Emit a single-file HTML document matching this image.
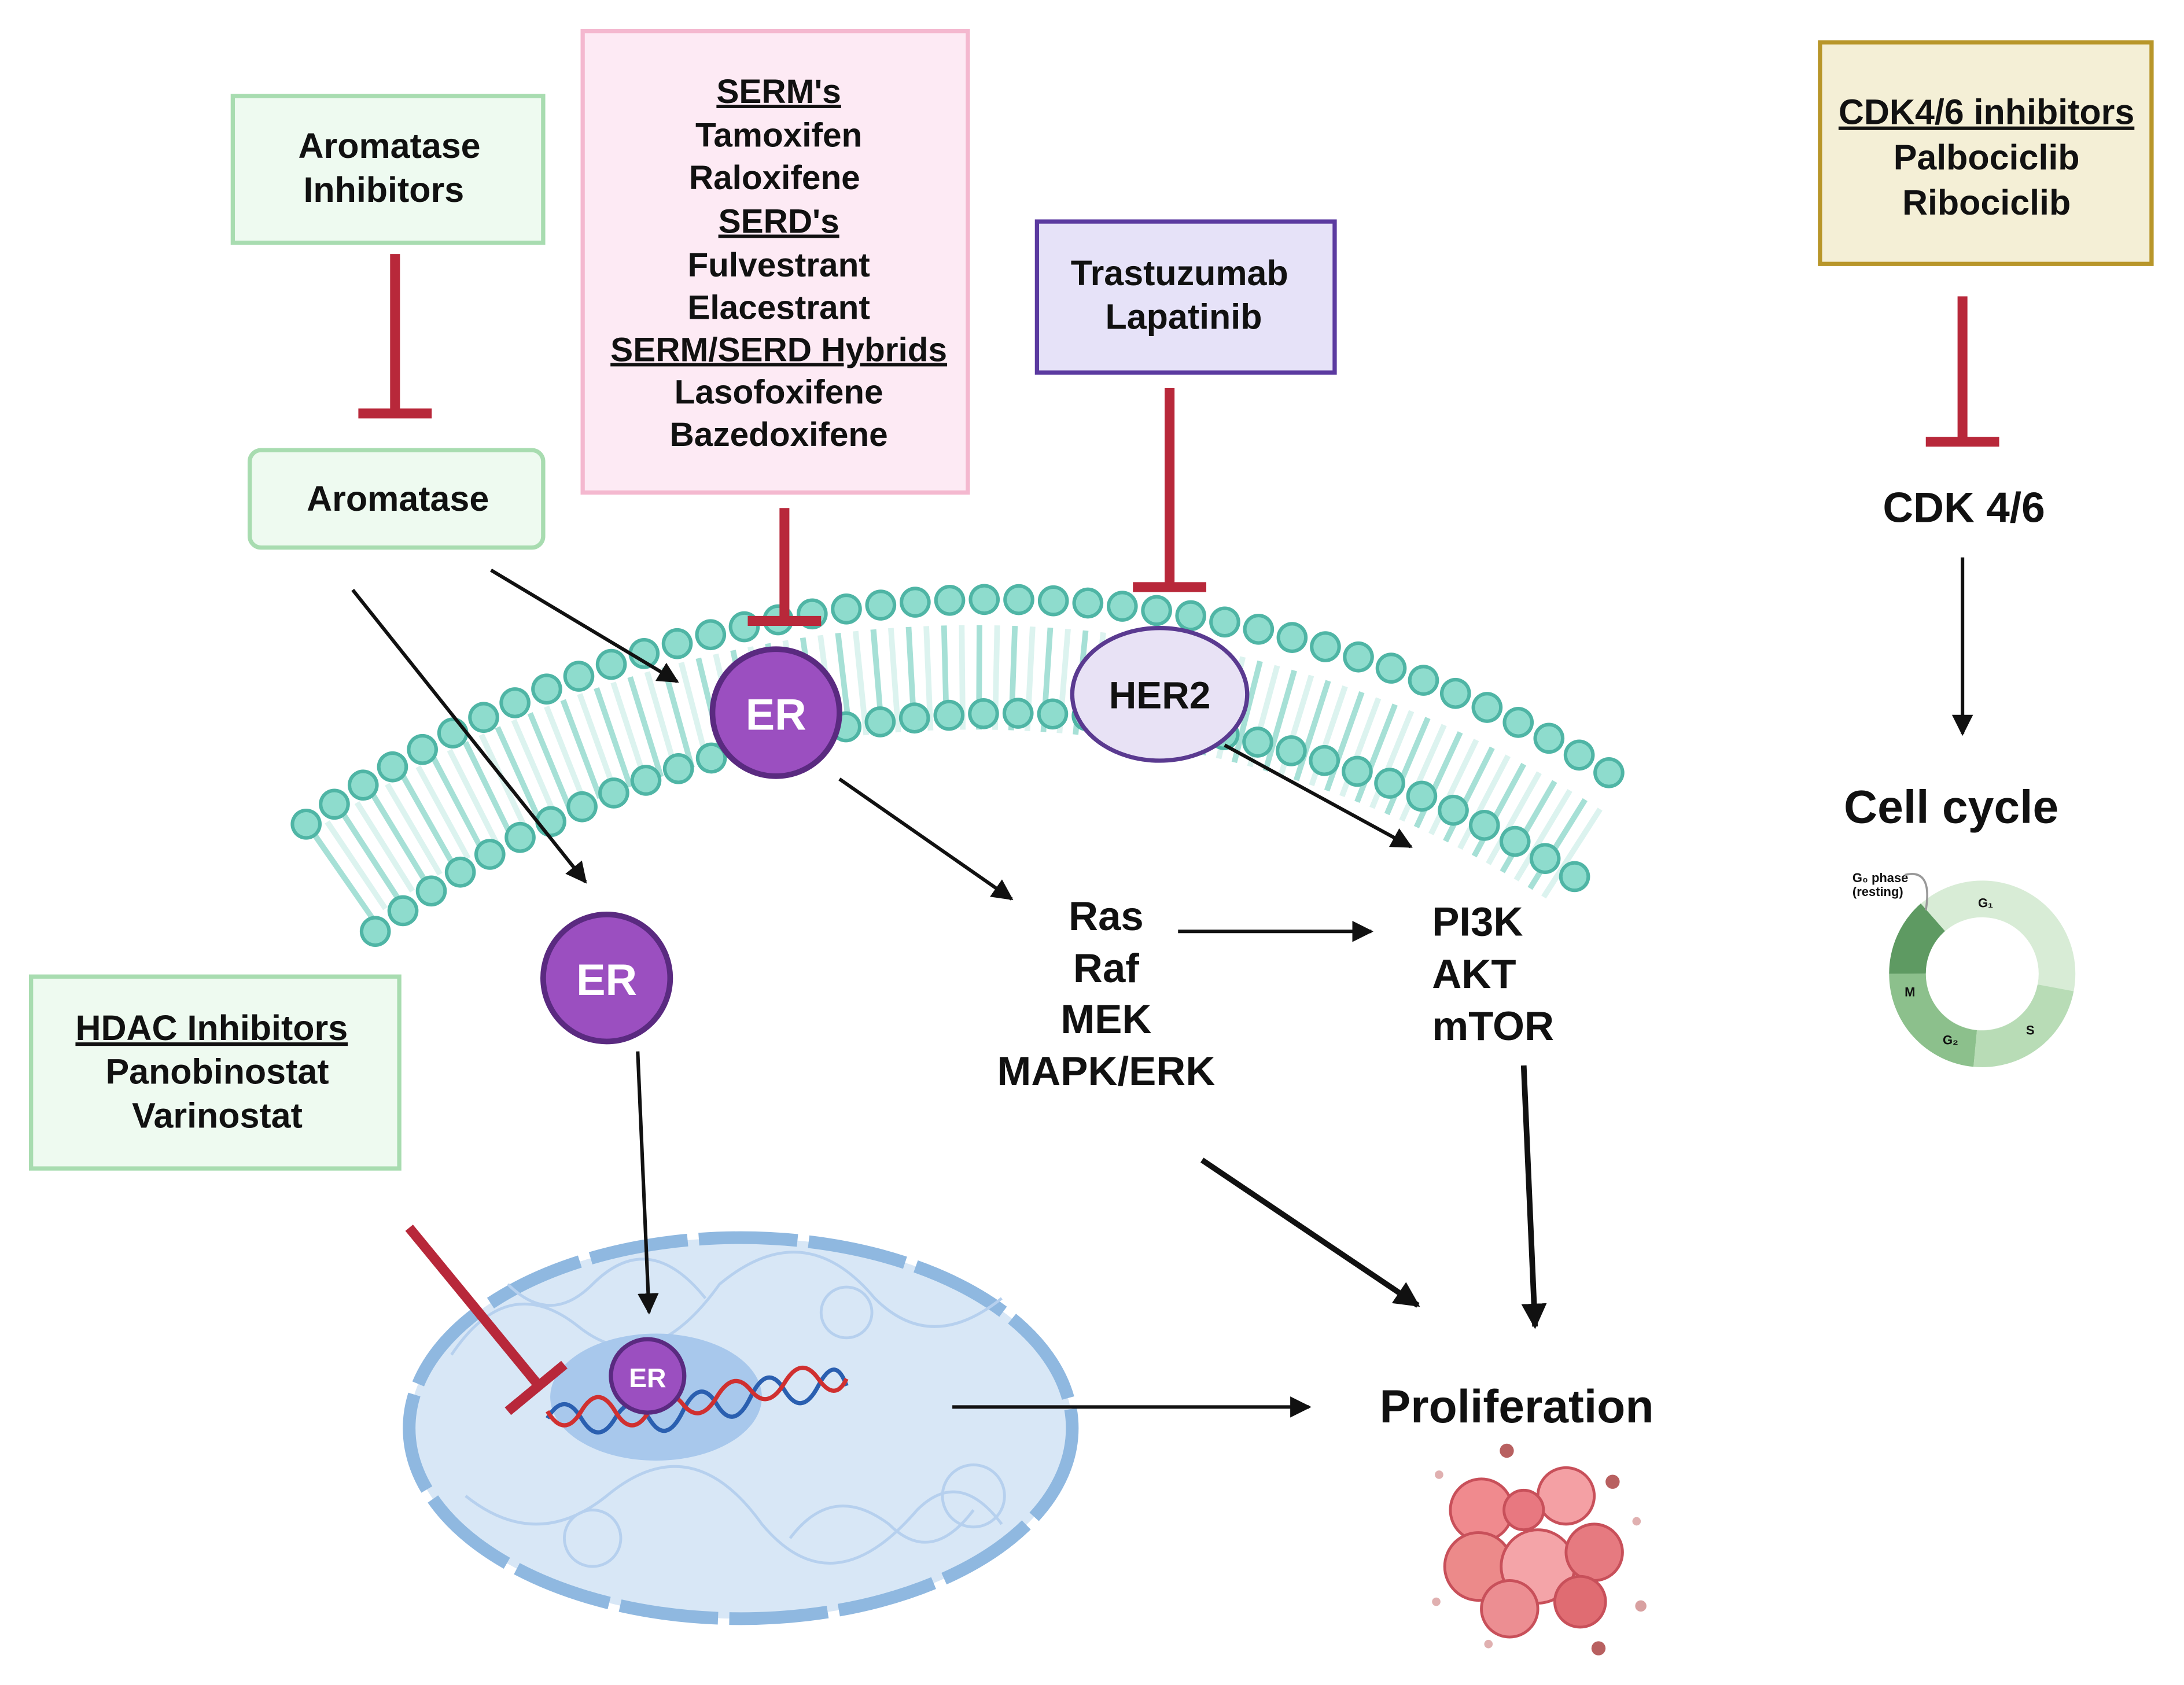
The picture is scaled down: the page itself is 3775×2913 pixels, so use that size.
<!DOCTYPE html>
<html><head><meta charset="utf-8"><style>
html,body{margin:0;padding:0;background:#fff;}
svg{display:block;}
text{font-family:"Liberation Sans",sans-serif;font-weight:bold;fill:#111;}
</style></head><body>
<svg width="3775" height="2913" viewBox="0 0 1548 1194" preserveAspectRatio="none" xmlns="http://www.w3.org/2000/svg">
<defs>
<marker id="ah" viewBox="0 0 10 10" refX="9" refY="5" markerWidth="6" markerHeight="6" orient="auto"><path d="M0,0 L10,5 L0,10 z" fill="#111"/></marker>
<marker id="ah2" viewBox="0 0 10 10" refX="9" refY="5" markerWidth="4.5" markerHeight="4.5" orient="auto"><path d="M0,0 L10,5 L0,10 z" fill="#111"/></marker>
</defs>
<rect width="1548" height="1194" fill="#fff"/>

<!-- membrane -->
<path d="M241,621 A785,785 0 0 1 1118,607" fill="none" stroke="#a6e0d6" stroke-width="74" stroke-dasharray="4 20"/>
<path d="M241,621 A785,785 0 0 1 1118,607" fill="none" stroke="#cdeee8" stroke-width="74" stroke-dasharray="4 20" stroke-dashoffset="12" opacity="0.7"/>
<path d="M217,584 A830,830 0 0 1 1160,560" fill="none" stroke="#4fb5a5" stroke-width="22" stroke-dasharray="0 24.5" stroke-linecap="round"/>
<path d="M217,584 A830,830 0 0 1 1160,560" fill="none" stroke="#8edccd" stroke-width="17" stroke-dasharray="0 24.5" stroke-linecap="round"/>
<path d="M266,660 A740,740 0 0 1 1122,625" fill="none" stroke="#4fb5a5" stroke-width="22" stroke-dasharray="0 24.5" stroke-linecap="round"/>
<path d="M266,660 A740,740 0 0 1 1122,625" fill="none" stroke="#8edccd" stroke-width="17" stroke-dasharray="0 24.5" stroke-linecap="round"/>

<!-- boxes -->
<rect x="165" y="68" width="220" height="104" fill="#eefaf0" stroke="#a8dcb0" stroke-width="3"/>
<text x="276" y="112" font-size="25" text-anchor="middle">Aromatase</text>
<text x="272" y="143" font-size="25" text-anchor="middle">Inhibitors</text>

<rect x="413" y="22" width="273" height="327" fill="#fdeaf4" stroke="#f4b8cf" stroke-width="3"/>
<g font-size="24" text-anchor="middle">
<text x="552" y="73" text-decoration="underline">SERM's</text>
<text x="552" y="104">Tamoxifen</text>
<text x="549" y="134">Raloxifene</text>
<text x="552" y="165" text-decoration="underline">SERD's</text>
<text x="552" y="196">Fulvestrant</text>
<text x="552" y="226">Elacestrant</text>
<text x="552" y="256" text-decoration="underline">SERM/SERD Hybrids</text>
<text x="552" y="286">Lasofoxifene</text>
<text x="552" y="316">Bazedoxifene</text>
</g>

<rect x="735" y="157" width="211" height="107" fill="#e6e2f8" stroke="#5b3aa0" stroke-width="3"/>
<text x="836" y="202" font-size="25" text-anchor="middle">Trastuzumab</text>
<text x="839" y="233" font-size="25" text-anchor="middle">Lapatinib</text>

<rect x="1290" y="30" width="235" height="157" fill="#f4efd6" stroke="#b8962a" stroke-width="3"/>
<g font-size="25" text-anchor="middle">
<text x="1408" y="88" text-decoration="underline">CDK4/6 inhibitors</text>
<text x="1408" y="120">Palbociclib</text>
<text x="1408" y="152">Ribociclib</text>
</g>

<rect x="177" y="319" width="208" height="69" rx="8" fill="#eefaf0" stroke="#a8dcb0" stroke-width="3"/>
<text x="282" y="362" font-size="25" text-anchor="middle">Aromatase</text>

<rect x="22" y="692" width="261" height="136" fill="#eefaf0" stroke="#a8dcb0" stroke-width="3"/>
<g font-size="25" text-anchor="middle">
<text x="150" y="737" text-decoration="underline">HDAC Inhibitors</text>
<text x="154" y="768">Panobinostat</text>
<text x="154" y="799">Varinostat</text>
</g>

<!-- inhibitor lines -->
<g stroke="#b8283a" stroke-width="7" fill="none">
<line x1="280" y1="180" x2="280" y2="293"/><line x1="254" y1="293" x2="306" y2="293"/>
<line x1="556" y1="360" x2="556" y2="440"/><line x1="530" y1="440" x2="582" y2="440"/>
<line x1="829" y1="275" x2="829" y2="416"/><line x1="803" y1="416" x2="855" y2="416"/>
<line x1="1391" y1="210" x2="1391" y2="313"/><line x1="1365" y1="313" x2="1417" y2="313"/>
</g>

<!-- nucleus -->
<ellipse cx="525" cy="1012" rx="235" ry="135" fill="#d8e7f6" stroke="#8fb8e0" stroke-width="9" stroke-dasharray="70 8"/>
<g fill="none" stroke="#b6d0ee" stroke-width="2">
<path d="M320,960 q40,-60 90,-20 q50,40 100,-30 q60,-50 110,10 q40,40 90,0"/>
<path d="M330,1060 q50,40 100,0 q60,-50 110,20 q50,60 110,-10 q30,-30 60,10"/>
<path d="M360,910 q30,30 60,0 q40,-40 80,10 M560,1090 q30,-40 70,-10 q30,30 60,-10"/>
<circle cx="420" cy="1090" r="20"/><circle cx="600" cy="930" r="18"/><circle cx="690" cy="1060" r="22"/>
</g>
<ellipse cx="465" cy="990" rx="75" ry="45" fill="#a8c8ec"/>
<path d="M388,1005 q12,-20 24,0 t24,0 t24,0 t24,-5 t24,-5 t24,-5 t24,-5 t24,-3 t20,0" fill="none" stroke="#2a5fb0" stroke-width="3"/>
<path d="M388,1000 q12,20 24,0 t24,0 t24,0 t24,-5 t24,-5 t24,-5 t24,-5 t24,-3 t20,0" fill="none" stroke="#d03030" stroke-width="3"/>
<circle cx="459" cy="975" r="26" fill="#9b4fc0" stroke="#5a2a80" stroke-width="3"/>
<text x="459" y="983" font-size="19" text-anchor="middle" style="fill:#fff">ER</text>

<g stroke="#b8283a" stroke-width="7" fill="none">
<line x1="290" y1="870" x2="382" y2="982"/><line x1="360" y1="1000" x2="400" y2="967"/>
</g>

<!-- ER / HER2 -->
<circle cx="550" cy="505" r="45" fill="#9b4fc0" stroke="#5a2a80" stroke-width="4"/>
<text x="550" y="517" font-size="31" text-anchor="middle" style="fill:#fff">ER</text>
<ellipse cx="822" cy="492" rx="62" ry="47" fill="#e8e2f5" stroke="#5a3a90" stroke-width="3"/>
<text x="822" y="502" font-size="27" text-anchor="middle">HER2</text>
<circle cx="430" cy="693" r="45" fill="#9b4fc0" stroke="#5a2a80" stroke-width="4"/>
<text x="430" y="705" font-size="31" text-anchor="middle" style="fill:#fff">ER</text>

<!-- arrows -->
<g stroke="#111" stroke-width="2.5" fill="none" marker-end="url(#ah)">
<line x1="348" y1="404" x2="480" y2="483"/>
<line x1="250" y1="418" x2="415" y2="625"/>
<line x1="595" y1="552" x2="717" y2="637"/>
<line x1="868" y1="528" x2="1000" y2="600"/>
<line x1="835" y1="660" x2="972" y2="660"/>
<line x1="452" y1="745" x2="460" y2="930"/>
<line x1="675" y1="997" x2="928" y2="997"/>
<line x1="1391" y1="395" x2="1391" y2="520"/>
</g>
<g stroke="#111" stroke-width="4" fill="none" marker-end="url(#ah2)">
<line x1="852" y1="822" x2="1005" y2="925"/>
<line x1="1080" y1="755" x2="1088" y2="940"/>
</g>

<!-- pathway text -->
<g font-size="29" text-anchor="middle">
<text x="784" y="659">Ras</text><text x="784" y="696">Raf</text><text x="784" y="732">MEK</text><text x="784" y="769">MAPK/ERK</text>
</g>
<g font-size="29">
<text x="1015" y="663">PI3K</text><text x="1015" y="700">AKT</text><text x="1015" y="737">mTOR</text>
</g>
<text x="1075" y="1008" font-size="33" text-anchor="middle">Proliferation</text>
<text x="1392" y="370" font-size="30" text-anchor="middle">CDK 4/6</text>
<text x="1383" y="583" font-size="33" text-anchor="middle">Cell cycle</text>

<!-- cell cycle ring -->
<circle cx="1405" cy="690" r="53" fill="none" stroke="#d8ecd6" stroke-width="26"/>
<path d="M1352,690 A53,53 0 0 1 1370,650" fill="none" stroke="#5e9a62" stroke-width="26"/>
<path d="M1352,690 A53,53 0 0 0 1400,743" fill="none" stroke="#8cc08c" stroke-width="26"/>
<path d="M1400,743 A53,53 0 0 0 1457,700" fill="none" stroke="#b8dcb6" stroke-width="26"/>
<g font-size="9" style="font-weight:normal"><text x="1402" y="643">G₁</text><text x="1436" y="733">S</text><text x="1377" y="740">G₂</text><text x="1350" y="706">M</text>
<text x="1313" y="625">G₀ phase</text><text x="1313" y="635" fill="#777">(resting)</text></g>
<path d="M1350,620 q20,-5 15,25" fill="none" stroke="#999" stroke-width="1.5"/>

<!-- proliferation cells -->
<g stroke="#c8505a" stroke-width="2">
<circle cx="1050" cy="1070" r="22" fill="#f08a8e"/>
<circle cx="1110" cy="1060" r="20" fill="#f4a0a4"/>
<circle cx="1048" cy="1110" r="24" fill="#ec8a8a"/>
<circle cx="1090" cy="1110" r="26" fill="#f4a4a8"/>
<circle cx="1130" cy="1100" r="20" fill="#e67a80"/>
<circle cx="1070" cy="1140" r="20" fill="#ec8e92"/>
<circle cx="1120" cy="1135" r="18" fill="#e06c72"/>
<circle cx="1080" cy="1070" r="14" fill="#e87880"/>
</g>
<g fill="#b86060"><circle cx="1068" cy="1028" r="5"/><circle cx="1143" cy="1050" r="5"/><circle cx="1133" cy="1168" r="5"/><circle cx="1163" cy="1138" r="4" fill="#d8a0a0"/><circle cx="1020" cy="1045" r="3" fill="#e0b0b0"/><circle cx="1018" cy="1135" r="3" fill="#e0b0b0"/><circle cx="1055" cy="1165" r="3" fill="#e0b0b0"/><circle cx="1160" cy="1078" r="3" fill="#e0b0b0"/></g>
</svg>
</body></html>
